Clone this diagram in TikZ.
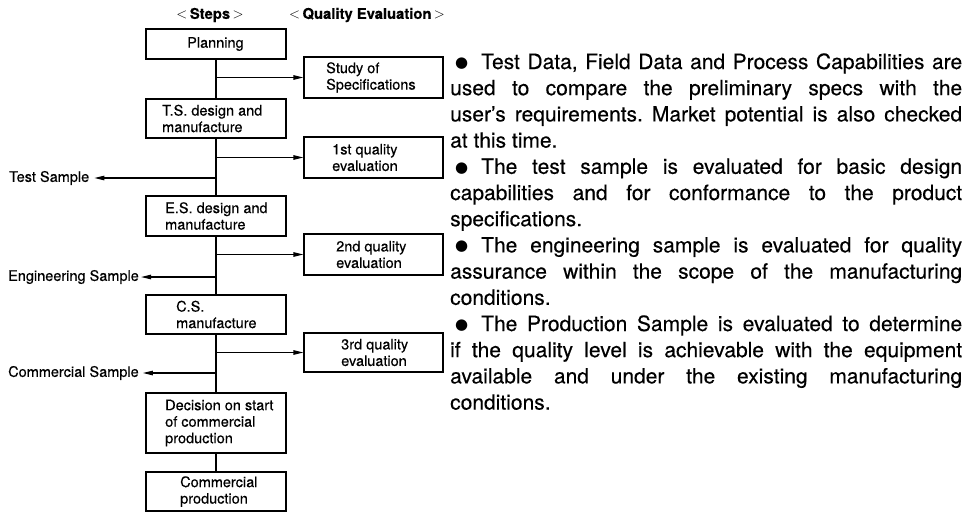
\documentclass[tikz,border=0pt]{standalone}
\usepackage{fontspec}
\setmainfont{TeX Gyre Heros}[FakeBold=0.35]
\newfontfamily\symfont{DejaVu Sans}
\usetikzlibrary{arrows.meta}

% bullet that opens each note
\newcommand{\bulletitem}{\noindent\makebox[31pt][l]{\hspace{5pt}\raisebox{1.5pt}{\symfont\fontsize{15}{15}\selectfont ●}}}

\begin{document}
\begin{tikzpicture}[x=1pt,y=-1pt,
  box/.style={draw, line width=1.1pt, inner sep=0pt},
  stepbox/.style={box, minimum width=140pt, minimum height=#1},
  evalbox/.style={box, minimum width=139pt, minimum height=#1},
  boxtext/.style={inner sep=0pt, anchor=west, align=left,
    font=\fontsize{14.5}{16.5}\selectfont},
  sidetext/.style={inner sep=0pt, anchor=west, font=\fontsize{14.5}{16.5}\selectfont},
  hdr/.style={inner sep=0pt, font=\fontsize{14.8}{16}\selectfont\bfseries},
  spine/.style={line width=1.7pt},
  rarr/.style={line width=1.1pt, -{Triangle[length=10pt,width=4.5pt]}},
  larr/.style={line width=1.1pt, -{Triangle[length=10pt,width=4.5pt]}},
]
\useasboundingbox (0,0) rectangle (974,512);

% column headings
\node[hdr] (hsteps) at (210,15) {$<$\,Steps\,$>$};
\node[hdr] (hqual) at (367,15) {$<$\,Quality Evaluation\,$>$};

% step boxes
\node[stepbox=30pt] (plan) at (216,44) {};
\node[stepbox=39pt] (ts)   at (216,118.5) {};
\node[stepbox=40pt] (es)   at (216,216) {};
\node[stepbox=39pt] (cs)   at (216,314.5) {};
\node[stepbox=60pt] (dec)  at (216,423) {};
\node[stepbox=39pt] (prod) at (216,491.5) {};

% quality evaluation boxes
\node[evalbox=41pt] (spec) at (373.5,77.5) {};
\node[evalbox=41pt] (q1)   at (373.5,157.5) {};
\node[evalbox=41pt] (q2)   at (373.5,254.5) {};
\node[evalbox=39pt] (q3)   at (373.5,352.5) {};

% box texts
\node[boxtext] (plant) at (187,44) {Planning};
\node[boxtext] (tst)   at (162,118.5) {T.S. design and\\manufacture};
\node[boxtext] (est)   at (165,216) {E.S. design and\\manufacture};
\node[boxtext] (cst)   at (176,314.5) {C.S.\\manufacture};
\node[boxtext] (dect)  at (165,423) {Decision on start\\of commercial\\production};
\node[boxtext] (prodt) at (180,491.5) {Commercial\\production};
\node[boxtext] (spect) at (326,77.5) {Study of\\Specifications};
\node[boxtext] (q1t)   at (332,157.5) {1st quality\\evaluation};
\node[boxtext] (q2t)   at (336,254.5) {2nd quality\\evaluation};
\node[boxtext] (q3t)   at (341,352.5) {3rd quality\\evaluation};

% samples leaving the flow
\node[sidetext] (tsamp) at (9,178) {Test Sample};
\node[sidetext] (esamp) at (8,277) {Engineering Sample};
\node[sidetext] (csamp) at (8,373) {Commercial Sample};

% main flow
\draw[spine] (plan.south) -- (ts.north);
\draw[spine] (ts.south) -- (es.north);
\draw[spine] (es.south) -- (cs.north);
\draw[spine] (cs.south) -- (dec.north);
\draw[spine] (dec.south) -- (prod.north);

% branches to the quality evaluations
\draw[rarr] (plan.south |- spec.west) -- (spec.west);
\draw[rarr] (ts.south |- q1.west) -- (q1.west);
\draw[rarr] (es.south |- q2.west) -- (q2.west);
\draw[rarr] (cs.south |- q3.west) -- (q3.west);

% branches to the samples
\draw[larr, shorten >=5pt] (ts.south |- tsamp.east) -- (tsamp.east);
\draw[larr, shorten >=2pt] (es.south |- esamp.east) -- (esamp.east);
\draw[larr, shorten >=4pt] (cs.south |- csamp.east) -- (csamp.east);

% explanatory notes
\node[inner sep=0pt, anchor=base west] (notes) at (450,69) {%
\begin{minipage}[t]{512pt}
\fontsize{21}{26.2}\selectfont\frenchspacing
\parindent=0pt \parskip=0pt \tolerance=10000 \hbadness=10000
\bulletitem Test Data, Field Data and Process Capabilities are\linebreak
used to compare the preliminary specs with the\linebreak
user's requirements. Market potential is also checked\linebreak
at this time.\par
\bulletitem The test sample is evaluated for basic design\linebreak
capabilities and for conformance to the product\linebreak
specifications.\par
\bulletitem The engineering sample is evaluated for quality\linebreak
assurance within the scope of the manufacturing\linebreak
conditions.\par
\bulletitem The Production Sample is evaluated to determine\linebreak
if the quality level is achievable with the equipment\linebreak
available and under the existing manufacturing\linebreak
conditions.\par
\end{minipage}};
\end{tikzpicture}
\end{document}
